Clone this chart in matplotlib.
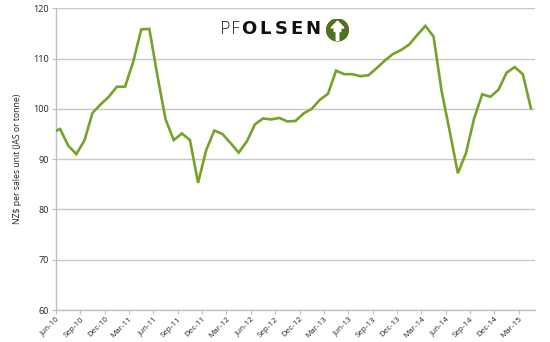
import matplotlib
matplotlib.use("Agg")
import matplotlib.pyplot as plt
from matplotlib.patches import Circle, Polygon

# Monthly prices, May-10 .. Apr-15 (first point clipped by the axis)
months = ["May-10", "Jun-10", "Jul-10", "Aug-10", "Sep-10", "Oct-10", "Nov-10", "Dec-10",
          "Jan-11", "Feb-11", "Mar-11", "Apr-11", "May-11", "Jun-11", "Jul-11", "Aug-11",
          "Sep-11", "Oct-11", "Nov-11", "Dec-11", "Jan-12", "Feb-12", "Mar-12", "Apr-12",
          "May-12", "Jun-12", "Jul-12", "Aug-12", "Sep-12", "Oct-12", "Nov-12", "Dec-12",
          "Jan-13", "Feb-13", "Mar-13", "Apr-13", "May-13", "Jun-13", "Jul-13", "Aug-13",
          "Sep-13", "Oct-13", "Nov-13", "Dec-13", "Jan-14", "Feb-14", "Mar-14", "Apr-14",
          "May-14", "Jun-14", "Jul-14", "Aug-14", "Sep-14", "Oct-14", "Nov-14", "Dec-14",
          "Jan-15", "Feb-15", "Mar-15", "Apr-15"]
values = [95.3, 96.0, 92.7, 91.0, 93.7, 99.2, 100.9, 102.4,
          104.4, 104.4, 109.3, 115.8, 115.9, 106.5, 97.9, 93.8,
          95.1, 93.8, 85.3, 91.8, 95.7, 95.0, 93.2, 91.3,
          93.5, 96.9, 98.1, 97.9, 98.2, 97.5, 97.6, 99.1,
          100.0, 101.8, 103.0, 107.6, 106.9, 106.9, 106.5, 106.7,
          108.1, 109.6, 110.9, 111.7, 112.8, 114.7, 116.5, 114.4,
          103.5, 95.5, 87.2, 91.2, 98.1, 102.9, 102.4, 103.8,
          107.2, 108.3, 106.9, 100.1]
tick_labels = ["Jun-10", "Sep-10", "Dec-10", "Mar-11", "Jun-11", "Sep-11", "Dec-11",
               "Mar-12", "Jun-12", "Sep-12", "Dec-12", "Mar-13", "Jun-13", "Sep-13",
               "Dec-13", "Mar-14", "Jun-14", "Sep-14", "Dec-14", "Mar-15"]
y_ticks = [60, 70, 80, 90, 100, 110, 120]
y_label = "NZ$ per sales unit (JAS or tonne)"
logo_light = "PF"
logo_bold = "OLSEN"

plt.rcParams['font.family'] = ['Open Sans', 'DejaVu Sans']

fig = plt.figure(figsize=(5.5, 3.42), dpi=100)
ax = fig.add_axes([56/550, 1-310/342, (535-56)/550, (310-8.3)/342])

# data points sit mid-month; Jun-10 tick at x=0
x = [i - 0.5 for i in range(len(values))]
ax.plot(x, values, color="#76a22a", lw=1.9, solid_joinstyle="miter", zorder=3, clip_on=True)

ax.set_xlim(0, 59)
ax.set_ylim(60, 120)
ax.set_yticks(y_ticks)
ax.set_yticklabels([str(v) for v in y_ticks], fontsize=6.5, color="#222222")
ax.set_xticks([3*i for i in range(len(tick_labels))])
ax.set_xticklabels(tick_labels, rotation=45, ha="right", rotation_mode="anchor",
                   fontsize=5.8, color="#222222")
ax.grid(axis="y", color="#c8c8c8", lw=1.0)
ax.set_axisbelow(True)
for s in ["top", "right"]:
    ax.spines[s].set_visible(False)
for s in ["left", "bottom"]:
    ax.spines[s].set_color("#c0c0c0")
    ax.spines[s].set_linewidth(1.0)
ax.tick_params(axis="y", length=3, color="#c0c0c0", pad=2)
ax.tick_params(axis="x", length=3, color="#c0c0c0", pad=1)
ax.set_ylabel(y_label, fontsize=6.2, color="#222222", labelpad=8)

# logo: letters placed individually to mimic the wide logotype
base_y = 1 - 34/342
for i, ch in enumerate(logo_light):
    fig.text((225 + i*10.5)/550, base_y, ch, fontsize=12.5, family="DejaVu Sans",
             fontweight="light", color="#111111", ha="center", va="baseline")
for i, ch in enumerate(logo_bold):
    fig.text((249 + i*16)/550, base_y, ch, fontsize=13, family="DejaVu Sans",
             fontweight="bold", color="#111111", ha="center", va="baseline")
lax = fig.add_axes([326/550, 1-42.5/342, 23/550, 25/342])
lax.set_xlim(-1.1, 1.1)
lax.set_ylim(-1.1, 1.1)
lax.set_aspect("equal")
lax.axis("off")
lax.add_patch(Circle((0, 0), 1.05, color="#4f7020"))
arrow = [(0, 0.85), (0.62, 0.2), (0.32, 0.2), (0.32, -0.15), (0.12, -0.15), (0.12, -1.0),
         (-0.12, -1.0), (-0.12, -0.15), (-0.32, -0.15), (-0.32, 0.2), (-0.62, 0.2)]
lax.add_patch(Polygon(arrow, closed=True, color="white"))

fig.savefig("out.png", dpi=100)
